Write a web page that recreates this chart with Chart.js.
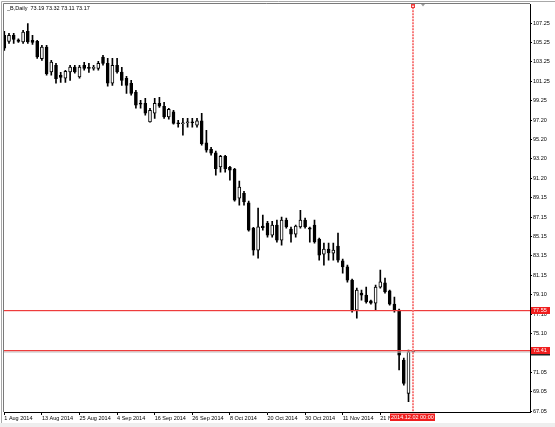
<!DOCTYPE html>
<html><head><meta charset="utf-8">
<script src="https://cdn.jsdelivr.net/npm/chart.js@4.4.0/dist/chart.umd.min.js"></script>
<style>html,body{margin:0;padding:0;background:#fff;}#wrap{width:555px;height:427px;position:relative;}</style>
</head><body><div id="wrap"><canvas id="c"></canvas></div>
<script>
const dates = [
 '2014.08.01','2014.08.04','2014.08.05','2014.08.06','2014.08.07','2014.08.08','2014.08.11','2014.08.12','2014.08.13','2014.08.14','2014.08.15',
 '2014.08.18','2014.08.19','2014.08.20','2014.08.21','2014.08.22','2014.08.25','2014.08.26','2014.08.27','2014.08.28','2014.08.29',
 '2014.09.01','2014.09.02','2014.09.03','2014.09.04','2014.09.05','2014.09.08','2014.09.09','2014.09.10','2014.09.11','2014.09.12',
 '2014.09.15','2014.09.16','2014.09.17','2014.09.18','2014.09.19','2014.09.22','2014.09.23','2014.09.24','2014.09.25','2014.09.26',
 '2014.09.29','2014.09.30','2014.10.01','2014.10.02','2014.10.03','2014.10.06','2014.10.07','2014.10.08','2014.10.09','2014.10.10',
 '2014.10.13','2014.10.14','2014.10.15','2014.10.16','2014.10.17','2014.10.20','2014.10.21','2014.10.22','2014.10.23','2014.10.24',
 '2014.10.27','2014.10.28','2014.10.29','2014.10.30','2014.10.31','2014.11.03','2014.11.04','2014.11.05','2014.11.06','2014.11.07',
 '2014.11.10','2014.11.11','2014.11.12','2014.11.13','2014.11.14','2014.11.17','2014.11.18','2014.11.19','2014.11.20','2014.11.21',
 '2014.11.24','2014.11.25','2014.11.26','2014.11.27','2014.11.28','2014.12.01','2014.12.02'];
const openP  = [106.00,105.38,106.00,105.54,105.31,106.42,105.49,105.38,103.59,104.79,102.20,102.90,101.86,101.55,102.20,102.72,101.68,102.90,102.64,102.58,
 102.58,103.76,103.10,101.03,102.90,102.20,101.55,101.03,100.13,98.96,98.96,97.02,97.92,98.96,98.65,97.54,98.06,96.94,96.84,96.94,
 96.99,96.68,97.13,94.85,94.19,93.81,92.36,93.47,92.33,92.12,89.12,89.63,88.63,86.01,83.73,86.22,86.53,85.28,86.32,84.77,
 86.84,85.91,85.39,86.14,86.84,86.04,86.32,84.87,83.32,83.83,83.42,84.14,82.62,82.00,80.62,77.51,79.27,79.07,78.48,78.24,
 79.90,80.34,79.51,78.14,77.51,72.33,68.88,73.19];
const highP  = [106.42,106.21,106.21,105.64,106.52,107.22,106.00,105.49,104.97,104.97,103.41,103.10,102.17,102.38,102.90,102.90,102.90,103.21,103.10,102.90,
 103.31,103.93,103.62,103.62,103.62,102.69,101.76,101.34,100.31,99.27,99.48,98.44,99.48,99.58,99.06,98.44,98.23,97.20,97.40,97.40,
 97.40,97.40,97.92,96.16,94.40,93.99,93.57,93.57,92.43,92.22,90.88,89.84,88.81,86.10,88.08,87.36,86.73,86.73,86.84,87.15,
 87.05,86.11,86.32,87.87,87.05,86.11,86.84,84.97,84.46,84.46,84.46,85.49,82.80,82.18,80.73,79.79,79.59,79.90,78.55,80.10,
 81.66,80.83,79.59,78.86,77.62,72.54,73.37,73.32];
const lowP   = [104.45,105.17,105.17,105.28,105.17,105.17,105.07,103.62,103.41,101.86,101.86,101.03,101.13,101.13,101.34,102.07,101.55,102.38,102.17,102.38,
 102.38,102.90,100.72,100.82,102.07,100.82,99.99,99.79,98.44,98.44,97.72,96.99,97.40,98.54,97.40,97.30,96.78,96.47,95.64,96.47,
 96.47,96.47,94.61,93.88,93.57,91.50,91.81,91.81,90.98,88.81,88.39,88.39,85.70,83.21,82.90,85.80,85.08,85.08,84.56,84.25,
 86.01,84.56,85.08,86.01,86.01,84.56,84.46,82.69,82.18,82.69,82.69,82.49,81.35,80.41,77.31,76.68,78.55,78.24,78.14,77.51,
 79.79,79.27,78.03,77.31,71.30,69.74,68.01,73.11];
const closeP = [104.66,106.00,105.59,105.38,106.35,105.31,105.28,103.76,104.79,102.04,103.24,101.52,101.65,102.27,102.72,102.20,102.72,102.58,102.58,102.64,
 103.10,103.10,101.03,102.90,102.20,101.34,100.82,99.99,98.75,98.86,97.92,98.23,98.96,98.65,97.54,98.34,96.86,96.84,96.94,96.99,
 96.94,97.13,94.78,94.09,93.78,92.19,93.47,92.19,92.02,88.91,90.26,88.73,85.80,83.73,86.14,86.06,85.28,86.32,84.77,86.84,
 86.14,85.39,86.22,86.84,86.14,85.91,84.59,83.21,83.83,83.45,83.73,82.69,82.00,80.62,77.51,79.59,79.07,78.37,78.24,79.90,
 80.45,79.41,78.14,77.51,72.85,69.92,73.19,73.17];
const xTickIdx = [0,8,16,24,32,40,48,56,64,72,80];
const xTickLabels = ['1 Aug 2014','13 Aug 2014','25 Aug 2014','4 Sep 2014','16 Sep 2014','26 Sep 2014','8 Oct 2014','20 Oct 2014','30 Oct 2014','11 Nov 2014','21 Nov 2014'];
const yTickVals = [67.05,69.05,71.05,73.05,75.10,77.10,79.10,81.15,83.15,85.15,87.15,89.15,91.20,93.20,95.20,97.20,99.25,101.25,103.25,105.25,107.25];
const levelLines = [77.55, 73.41];
const bidPrice = 73.17;
const cursorIdx = 87;
const cursorLabel = '2014.12.02 00:00';
const titleText = '_B,Daily  73.19 73.32 73.11 73.17';

const FONT = 'Liberation Sans, Arial, sans-serif';
const wickData = dates.map((d,i)=>({x:i, y:[lowP[i], highP[i]]}));
const bodyData = dates.map((d,i)=>({x:i, y:[Math.min(openP[i],closeP[i]), Math.max(openP[i],closeP[i])]}));
const bodyColors = dates.map((d,i)=> closeP[i] >= openP[i] ? '#ffffff' : '#000000');

const overlay = {
  id:'mt4overlay',
  beforeDraw(chart){
    const c = chart.ctx;
    c.save(); c.fillStyle='#fff'; c.fillRect(0,0,chart.width,chart.height); c.restore();
  },
  afterDatasetsDraw(chart){
    const c = chart.ctx, ca = chart.chartArea, ys = chart.scales.y, xs = chart.scales.x;
    c.save();
    // bid line
    let yb = Math.round(ys.getPixelForValue(bidPrice));
    c.strokeStyle='rgba(200,200,200,0.6)'; c.lineWidth=2;
    c.beginPath(); c.moveTo(ca.left,yb); c.lineTo(ca.right,yb); c.stroke();
    // level lines
    levelLines.forEach(v=>{
      const y = Math.round(ys.getPixelForValue(v))+0.5;
      c.strokeStyle='rgba(235,70,70,0.22)'; c.lineWidth=1;
      c.beginPath(); c.moveTo(ca.left,y+1); c.lineTo(ca.right,y+1); c.stroke();
      c.strokeStyle='rgb(238,60,60)';
      c.beginPath(); c.moveTo(ca.left,y); c.lineTo(ca.right,y); c.stroke();
    });
    // vertical dotted cursor line
    const xc = Math.round(xs.getPixelForValue(cursorIdx));
    c.strokeStyle='rgb(248,125,125)'; c.lineWidth=2; c.setLineDash([2,1]);
    c.beginPath(); c.moveTo(xc,ca.top); c.lineTo(xc,ca.bottom); c.stroke();
    c.setLineDash([]);
    // top markers
    c.lineWidth=1;
    c.strokeStyle='rgb(240,60,60)'; c.strokeRect(xc-1.5,4.5,3,3);
    c.fillStyle='#999';
    c.beginPath(); c.moveTo(xc+8,4); c.lineTo(xc+12,4); c.lineTo(xc+10,6.5); c.closePath(); c.fill();
    c.restore();
  },
  afterDraw(chart){
    const c = chart.ctx, ca = chart.chartArea, ys = chart.scales.y, xs = chart.scales.x;
    c.save();
    c.font = '5.5px ' + FONT; c.textBaseline='middle'; c.textAlign='left';
    // bid label
    let yb = ys.getPixelForValue(bidPrice);
    c.fillStyle='#222'; c.fillRect(ca.right+1, Math.round(yb)-3.5, 19, 7);
    c.fillStyle='#fff'; c.fillText(bidPrice.toFixed(2), ca.right+3, yb);
    // level labels
    levelLines.forEach(v=>{
      const y = ys.getPixelForValue(v);
      c.fillStyle='rgb(240,30,30)'; c.fillRect(ca.right+1, Math.round(y)-3, 19, 7);
      c.fillStyle='#fff'; c.fillText(v.toFixed(2), ca.right+3, Math.round(y)+0.5);
    });
    // cursor date label
    const xc = Math.round(xs.getPixelForValue(cursorIdx))+0.5;
    c.fillStyle='rgb(240,30,30)'; c.fillRect(xc-23.5, ca.bottom+1.5, 45, 7.5);
    c.fillStyle='#fff'; c.fillText(cursorLabel, xc-22.5, ca.bottom+5.5);
    // title
    c.fillStyle='#000'; c.fillText(titleText, 7, 8.5);
    // frame
    c.strokeStyle='#a8a8a8'; c.lineWidth=1;
    c.beginPath(); c.moveTo(1.5,1.5); c.lineTo(555,1.5); c.moveTo(1.5,1.5); c.lineTo(1.5,423); c.stroke();
    c.strokeStyle='#7a7a7a';
    c.beginPath(); c.moveTo(3.5,3.5); c.lineTo(ca.right,3.5); c.moveTo(3.5,3.5); c.lineTo(3.5,ca.bottom); c.stroke();
    c.fillStyle='#eeeeee'; c.fillRect(0,423,555,4);
    c.restore();
  }
};

new Chart(document.getElementById('c'), {
  type:'bar',
  data:{
    datasets:[
      {label:'wick', data:wickData, backgroundColor:'#000', borderWidth:0, barThickness:1, grouped:false, order:2, minBarLength:1},
      {label:'body', data:bodyData, backgroundColor:bodyColors, borderColor:'#000', borderWidth:1, borderSkipped:false, barThickness:3, grouped:false, order:1, minBarLength:1}
    ]
  },
  options:{
    responsive:true, maintainAspectRatio:false, animation:false,
    layout:{padding:{left:4, top:4, right:0, bottom:0}},
    plugins:{legend:{display:false}, tooltip:{enabled:false}},
    scales:{
      x:{type:'linear', min:-0.064, max:111.85, offset:false,
         afterBuildTicks:s=>{ s.ticks = xTickIdx.map(v=>({value:v})); },
         afterFit:s=>{ s.height = 15; },
         grid:{display:true, drawOnChartArea:false, drawTicks:true, tickLength:3, color:'#000', offset:false},
         border:{display:true, color:'#000', width:1},
         ticks:{autoSkip:false, maxRotation:0, minRotation:0, align:'start', padding:0, color:'#000',
                font:{family:FONT, size:5.5},
                callback:(v)=>{ const k = xTickIdx.indexOf(v); return k>=0 ? xTickLabels[k] : ''; }}
      },
      y:{type:'linear', position:'right', min:66.95, max:109.22,
         afterBuildTicks:s=>{ s.ticks = yTickVals.map(v=>({value:v})); },
         afterFit:s=>{ s.width = 25; },
         grid:{display:true, drawOnChartArea:false, drawTicks:true, tickLength:2, color:'#000'},
         border:{display:true, color:'#000', width:1},
         ticks:{autoSkip:false, padding:1, color:'#000', font:{family:FONT, size:5.5},
                callback:(v)=> Number(v).toFixed(2)}
      }
    }
  },
  plugins:[overlay]
});
</script></body></html>
